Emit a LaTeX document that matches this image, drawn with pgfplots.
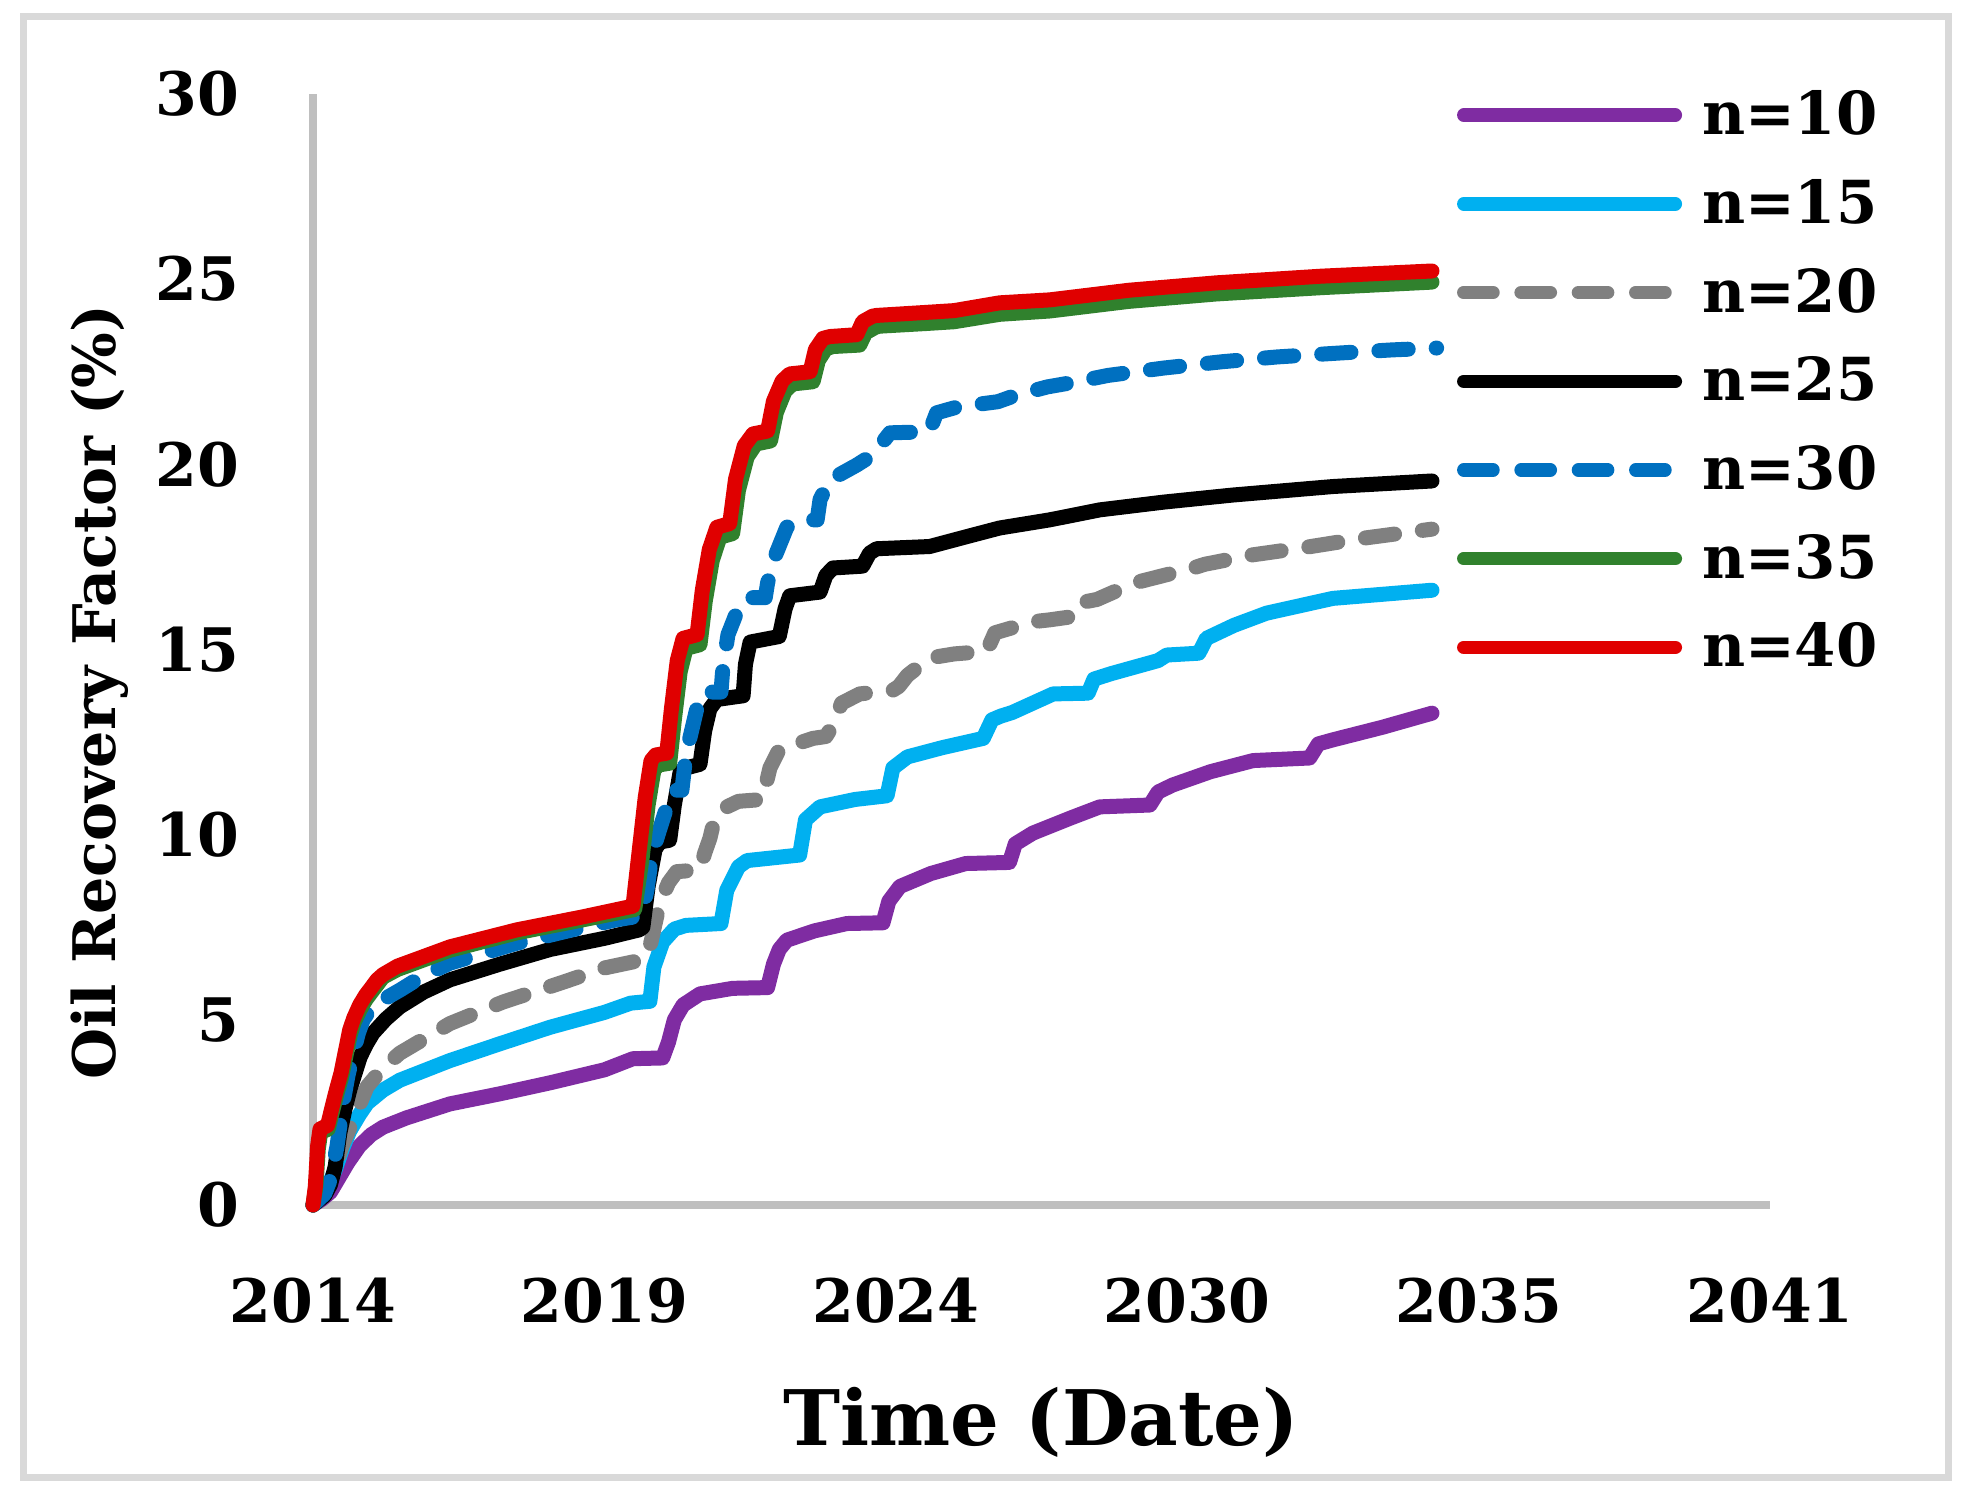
\documentclass[border=0pt]{standalone}
\usepackage{fontspec}
\setmainfont{DejaVu Serif}
\usepackage{pgfplots}
\pgfplotsset{compat=1.18}

\definecolor{c10}{HTML}{7F2CA2}
\definecolor{c15}{HTML}{00B0F0}
\definecolor{c20}{HTML}{808080}
\definecolor{c25}{HTML}{000000}
\definecolor{c30}{HTML}{0070C0}
\definecolor{c35}{HTML}{30812D}
\definecolor{c40}{HTML}{E00000}
\definecolor{axgray}{HTML}{BFBFBF}
\definecolor{framegray}{HTML}{D9D9D9}

\newcommand{\tickfont}{\fontsize{18}{21}\selectfont\bfseries}

\begin{document}
\begin{tikzpicture}
\useasboundingbox (0,0) rectangle (591.3pt,451.2pt);
\fill[white] (0,0) rectangle (591.3pt,451.2pt);
\draw[framegray, line width=2.1pt] (7.0pt,7.8pt) rectangle (584.5pt,446.2pt);

\begin{axis}[
    at={(93.9pt,89.7pt)}, anchor=south west,
    scale only axis, width=437.1pt, height=333.3pt,
    xmin=0, xmax=25, ymin=0, ymax=30,
    clip=false,
    axis x line*=bottom, axis y line*=left,
    axis line style={draw=axgray, line width=2.2pt, -},
    major tick length=0pt,
    xtick={0,5,10,15,20,25},
    xticklabels={\textbf{2014},\textbf{2019},\textbf{2024},\textbf{2030},\textbf{2035},\textbf{2041}},
    ytick={0,5,10,15,20,25,30},
    yticklabels={\textbf{0},\textbf{5},\textbf{10},\textbf{15},\textbf{20},\textbf{25},\textbf{30}},
    xticklabel style={font=\tickfont, anchor=north, inner sep=0pt, yshift=-21.6pt},
    yticklabel style={font=\tickfont, anchor=east, inner sep=0pt, xshift=-21.9pt},
    every axis plot/.append style={line width=4.5pt, line cap=round, line join=round},
    legend image code/.code={
        \path[draw=none, fill=none] (0pt,-6.5pt) rectangle (67.5pt,6.5pt);
        \draw[#1, line width=4pt] (2pt,0pt) -- (65.5pt,0pt);
    },
    legend cell align=left,
    legend style={at={(axis description cs:0.7852,1.0030)}, anchor=north west,
        draw=none, fill=none, inner sep=0pt, outer sep=0pt,
        row sep=11.9pt, column sep=6pt,
        font=\fontsize{17.8}{20}\selectfont\bfseries,
        nodes={inner sep=0pt}},
]

% n=10
\addplot[c10] coordinates {
(0,0) (0.15,0.15) (0.3,0.35) (0.45,0.75) (0.6,1.15) (0.8,1.6) (1.0,1.9)
(1.2,2.1) (1.6,2.35) (2.35,2.73) (3.2,3.0) (4.07,3.3) (5.0,3.65) (5.49,3.95)
(6.0,3.97) (6.1,4.4) (6.2,5.0) (6.35,5.4) (6.64,5.7) (7.2,5.85) (7.8,5.87)
(7.9,6.5) (8.0,6.9) (8.13,7.15) (8.6,7.4) (9.16,7.6) (9.78,7.62)
(9.88,8.2) (10.07,8.6) (10.6,8.95) (11.2,9.22) (11.95,9.25)
(12.05,9.75) (12.35,10.04) (13.0,10.45) (13.5,10.75) (14.36,10.8)
(14.5,11.15) (14.75,11.34) (15.4,11.7) (16.13,12.0) (17.1,12.07)
(17.25,12.45) (17.5,12.56) (18.35,12.9) (19.2,13.28)
};
\addlegendentry{n=10}

% n=15
\addplot[c15] coordinates {
(0,0) (0.2,0.3) (0.38,0.95) (0.5,1.5) (0.63,2.0) (0.8,2.45) (0.93,2.75)
(1.2,3.1) (1.49,3.37) (2.35,3.9) (3.2,4.35) (4.07,4.8) (5.0,5.2) (5.45,5.45)
(5.78,5.5) (5.85,6.43) (6.0,7.1) (6.2,7.45) (6.4,7.55) (7.0,7.6)
(7.1,8.5) (7.3,9.13) (7.45,9.3) (8.35,9.45) (8.45,10.4) (8.7,10.75)
(9.3,10.95) (9.85,11.05) (9.95,11.8) (10.2,12.1) (10.8,12.35) (11.5,12.6)
(11.65,13.1) (11.8,13.2) (12.0,13.3) (12.7,13.8) (13.3,13.82)
(13.4,14.2) (13.7,14.35) (14.5,14.7) (14.65,14.85) (15.2,14.9)
(15.33,15.3) (15.8,15.65) (16.36,15.98) (17.5,16.38) (19.2,16.6)
};
\addlegendentry{n=15}

% n=20
\addplot[c20, dash pattern=on 8.8pt off 8.4pt] coordinates {
(0,0) (0.2,0.3) (0.38,1.03) (0.5,1.6) (0.69,2.3) (0.93,3.2) (1.2,3.7)
(1.49,4.1) (2.35,4.9) (3.26,5.48) (4.3,6.02) (5.0,6.4) (5.6,6.6)
(5.72,6.7) (5.8,7.1) (5.87,7.6) (5.95,8.15) (6.1,8.7) (6.24,9.0) (6.64,9.05)
(6.72,9.5) (6.81,9.9) (6.9,10.5) (7.1,10.75) (7.3,10.9) (7.72,10.95)
(7.78,11.4) (7.84,11.8) (8.0,12.3) (8.58,12.6) (8.8,12.65) (8.9,12.9)
(9.07,13.55) (9.38,13.8) (9.95,13.9) (10.05,14.0) (10.2,14.3) (10.58,14.77)
(11.0,14.88) (11.56,14.95) (11.7,15.45) (12.35,15.75) (12.64,15.8) (13.0,15.88)
(13.12,16.25) (13.45,16.35) (14.1,16.8) (14.35,16.9) (15.1,17.2) (15.3,17.3)
(16.1,17.55) (17.0,17.75) (18.0,18.0) (19.2,18.25)
};
\addlegendentry{n=20}

% n=25
\addplot[c25] coordinates {
(0,0) (0.2,0.25) (0.3,0.55) (0.38,1.03) (0.46,1.94) (0.55,2.6) (0.63,3.1)
(0.72,3.55) (0.81,4.0) (0.92,4.35) (1.03,4.64) (1.25,5.02) (1.49,5.35)
(1.9,5.75) (2.35,6.08) (3.2,6.5) (4.07,6.9) (5.0,7.2) (5.6,7.43) (5.66,7.5)
(5.75,8.6) (5.87,9.6) (5.95,9.8)
(6.12,9.85) (6.2,10.8) (6.3,11.7) (6.4,11.8) (6.64,11.9) (6.72,12.8)
(6.81,13.4) (6.93,13.65) (7.38,13.75) (7.42,14.6) (7.5,15.2) (8.0,15.35)
(8.1,16.1) (8.18,16.45) (8.7,16.55) (8.8,17.0) (8.92,17.2) (9.43,17.25)
(9.55,17.6) (9.67,17.72) (10.58,17.78) (11.2,18.04) (11.78,18.28)
(12.64,18.5) (13.5,18.77) (14.6,18.98) (15.78,19.17) (17.5,19.4) (19.2,19.55)
};
\addlegendentry{n=25}

% n=30
\addplot[c30, dash pattern=on 8.8pt off 8.4pt] coordinates {
(0,0) (0.2,0.3) (0.3,0.7) (0.41,1.57) (0.52,2.8) (0.6,3.5) (0.69,4.1)
(0.78,4.65) (0.86,5.0) (0.98,5.27) (1.1,5.45) (1.49,5.8) (1.9,6.2) (2.35,6.53)
(3.5,7.07) (4.5,7.45)
(5.2,7.7) (5.6,7.8) (5.66,8.0) (5.73,8.5) (5.8,9.3) (5.9,9.9) (6.07,10.75)
(6.16,11.2) (6.33,11.2) (6.38,11.9) (6.45,12.5) (6.6,13.5) (6.7,13.85)
(7.0,13.85) (7.03,14.45) (7.12,15.4) (7.27,16.0) (7.44,16.4) (7.76,16.4)
(7.8,16.8) (7.95,17.6) (8.13,18.3) (8.4,18.5) (8.65,18.5) (8.7,19.05)
(8.87,19.58) (9.33,19.98) (9.6,20.25) (9.9,20.85) (10.36,20.87) (10.58,20.9)
(10.7,21.39) (11.06,21.55) (11.75,21.69) (12.07,21.87) (12.6,22.09)
(13.0,22.2) (13.64,22.4) (14.6,22.6) (15.6,22.77) (16.55,22.9) (17.56,23.0)
(18.52,23.09) (19.28,23.14)
};
\addlegendentry{n=30}

% n=35
\addplot[c35] coordinates {
(0,0) (0.05,0.5) (0.09,1.5) (0.13,1.95) (0.26,2.05) (0.33,2.5) (0.41,3.0)
(0.49,3.45) (0.64,4.6) (0.71,4.95) (0.81,5.28) (0.91,5.55) (1.02,5.78)
(1.2,6.15) (1.45,6.36) (1.78,6.55)
(2.35,6.88) (3.5,7.35) (4.63,7.7) (5.52,7.98) (5.65,9.4) (5.75,10.8)
(5.85,11.75) (5.93,11.88) (6.12,11.93) (6.2,13.1) (6.3,14.4) (6.4,15.03)
(6.64,15.13) (6.73,16.3) (6.85,17.4) (6.98,18.03) (7.2,18.13) (7.3,19.3)
(7.45,20.2) (7.6,20.55) (7.85,20.63) (7.95,21.4) (8.1,21.98) (8.23,22.17)
(8.58,22.23) (8.67,22.8) (8.8,23.12) (8.92,23.18) (9.38,23.22) (9.48,23.55)
(9.65,23.7) (9.72,23.73) (10.5,23.8) (11.0,23.85) (11.78,24.05) (12.64,24.14)
(14.0,24.4) (15.5,24.6) (17.3,24.77) (19.2,24.92)
};
\addlegendentry{n=35}

% n=40
\addplot[c40] coordinates {
(0,0) (0.04,0.5) (0.08,1.6) (0.12,2.05) (0.25,2.15) (0.32,2.6) (0.4,3.1)
(0.48,3.56) (0.63,4.73) (0.7,5.05) (0.8,5.4) (0.9,5.66) (1.01,5.89)
(1.1,6.08) (1.2,6.22) (1.45,6.45) (1.78,6.64)
(2.35,6.97) (3.5,7.43) (4.63,7.78) (5.49,8.07) (5.6,9.6) (5.7,11.0)
(5.8,12.0) (5.88,12.15) (6.07,12.2) (6.15,13.4) (6.25,14.7) (6.35,15.3)
(6.59,15.4) (6.68,16.6) (6.8,17.7) (6.93,18.3) (7.15,18.4) (7.25,19.6)
(7.4,20.5) (7.55,20.82) (7.8,20.9) (7.9,21.7) (8.05,22.25) (8.18,22.44)
(8.53,22.5) (8.62,23.1) (8.75,23.4) (8.87,23.45) (9.33,23.5) (9.43,23.85)
(9.6,24.0) (9.67,24.02) (10.5,24.1) (11.0,24.15) (11.78,24.36) (12.64,24.44)
(14.0,24.7) (15.5,24.9) (17.3,25.08) (19.2,25.22)
};
\addlegendentry{n=40}

\end{axis}

\node[font=\fontsize{23}{26}\selectfont\bfseries, anchor=base] at (312.3pt,17.4pt) {Time (Date)};
\node[font=\fontsize{17.6}{20}\selectfont\bfseries, rotate=90, anchor=base] at (34.7pt,243.6pt) {Oil Recovery Factor (\%)};
\end{tikzpicture}
\end{document}
